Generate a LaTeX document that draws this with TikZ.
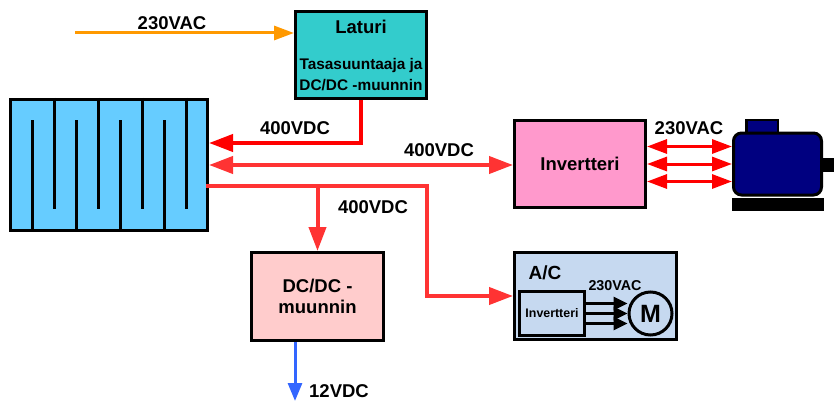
\documentclass[tikz,border=0pt]{standalone}
\usepackage{fontspec}
\setmainfont{Liberation Sans}
\usepackage{tikz}
\usetikzlibrary{arrows.meta,calc}
\usepackage{xcolor}
\definecolor{chargeteal}{RGB}{51,204,204}
\definecolor{battblue}{RGB}{102,204,255}
\definecolor{invpink}{RGB}{255,153,204}
\definecolor{softpink}{RGB}{255,204,204}
\definecolor{softblue}{RGB}{198,217,240}
\definecolor{motornavy}{RGB}{0,0,128}
\definecolor{mainorange}{RGB}{255,153,0}
\definecolor{mainred}{RGB}{255,0,0}
\definecolor{softred}{RGB}{255,51,51}
\definecolor{lowblue}{RGB}{51,102,255}
\tikzset{
  blockbox/.style={draw=black,line width=3pt,inner sep=0pt,align=center,
    font=\fontsize{18.5}{21}\selectfont\bfseries},
  platefwd/.style={line width=3pt,draw=black},
  mainflow/.style={-{Triangle[length=24pt,width=17pt]},line width=4pt,draw=softred},
  feedflow/.style={mainflow,draw=mainred},
  phaseflow/.style={{Triangle[length=20pt,width=14pt]}-{Triangle[length=20pt,width=14pt]},line width=3pt,draw=mainred},
  innerflow/.style={-{Triangle[length=14pt,width=13pt]},line width=3pt,draw=black},
  voltlabel/.style={font=\fontsize{18.5}{20}\selectfont\bfseries,inner sep=0pt}
}
\begin{document}
\begin{tikzpicture}[x=1pt,y=-1pt]
  \useasboundingbox (0,0) rectangle (834,401);
  % blocks
  \node[blockbox,fill=chargeteal,minimum width=131pt,minimum height=87pt] (laturi) at (361,55)
    {{\fontsize{18.5}{19}\selectfont Laturi}\\[15pt]{\fontsize{15.4}{18}\selectfont Tasasuuntaaja ja}\\{\fontsize{15.4}{18}\selectfont DC/DC -muunnin}};
  \node[blockbox,fill=battblue,minimum width=197pt,minimum height=131pt] (batt) at (109,165) {};
  \node[blockbox,fill=invpink,minimum width=131pt,minimum height=87pt] (invert) at (580,164) {Invertteri};
  \node[blockbox,fill=softpink,minimum width=132pt,minimum height=88pt] (dcdc) at (317.5,296.5) {DC/DC -\\muunnin};
  \node[blockbox,fill=softblue,minimum width=162pt,minimum height=87pt] (ac) at (595.5,296) {};
  \node[blockbox,fill=softblue,minimum width=65pt,minimum height=44pt,font=\fontsize{12.4}{14}\selectfont\bfseries] (acinv) at (552,313.5) {Invertteri};
  \node[blockbox,fill=softblue,circle,minimum size=43pt,font=\fontsize{25}{27}\selectfont\bfseries] (acmotor) at (650.5,313.5) {M};
  % motor
  \node[draw=black,line width=2.5pt,fill=motornavy,minimum width=31.5pt,minimum height=18pt,inner sep=0pt] (motorcap) at (762,129) {};
  \node[draw=black,fill=black,minimum width=12pt,minimum height=13pt,inner sep=0pt,anchor=east] (motorshaft) at (834,164.5) {};
  \node[draw=black,line width=3pt,fill=motornavy,rounded corners=8pt,minimum width=88pt,minimum height=62pt,inner sep=0pt] (motor) at (777.5,164) {};
  \node[draw=black,fill=black,minimum width=91pt,minimum height=12pt,inner sep=0pt] (motorbase) at (777.5,204) {};
  % battery plates
  \draw[platefwd] (54,98) -- (54,209);
  \draw[platefwd] (98,98) -- (98,209);
  \draw[platefwd] (142,98) -- (142,209);
  \draw[platefwd] (186,98) -- (186,209);
  \draw[platefwd] (32,120) -- (32,231);
  \draw[platefwd] (76,120) -- (76,231);
  \draw[platefwd] (120,120) -- (120,231);
  \draw[platefwd] (164,120) -- (164,231);
  % connectors
  \coordinate (acsource) at (75,33);
  \coordinate (battcharge) at (batt.east |- 0,143);
  \coordinate (busstart) at ($(batt.east)+(-3,21)$);
  \coordinate (busturn) at (427,186);
  \coordinate (lowout) at (295,401);
  \draw[-{Triangle[length=20pt,width=14pt]},line width=3pt,draw=mainorange] (acsource) -- (acsource -| laturi.west);
  \draw[feedflow] (laturi.south) |- (battcharge);
  \draw[mainflow,{Triangle[length=24pt,width=17pt]}-{Triangle[length=24pt,width=17pt]}] (batt.east) -- (batt.east -| invert.west);
  \draw[mainflow] (busstart) -- (busturn) |- (ac.west);
  \draw[mainflow] (dcdc.north |- busstart) -- (dcdc.north);
  \draw[-{Triangle[length=18pt,width=14pt]},line width=3pt,draw=lowblue] (dcdc.south -| lowout) -- (lowout);
  \draw[phaseflow] ($(invert.east)+(0,-17.5)$) -- ($(motor.west)+(0,-17.5)$);
  \draw[phaseflow] (invert.east) -- (motor.west);
  \draw[phaseflow] ($(invert.east)+(0,17.5)$) -- ($(motor.west)+(0,17.5)$);
  \draw[innerflow] ($(acinv.east)+(0,-10)$) -- ($(acmotor.west)+(0,-10)$);
  \draw[innerflow] (acinv.east) -- (acmotor.west);
  \draw[innerflow] ($(acinv.east)+(0,10)$) -- ($(acmotor.west)+(0,10)$);
  % labels
  \node[voltlabel] (acinlabel) at (172,23) {230VAC};
  \node[voltlabel] (chargelabel) at (295,128) {400VDC};
  \node[voltlabel] (buslabel) at (439,150) {400VDC};
  \node[voltlabel] (dcdclabel) at (373,207) {400VDC};
  \node[voltlabel] (phaselabel) at (689,128) {230VAC};
  \node[voltlabel] (lowlabel) at (339,391) {12VDC};
  \node[voltlabel,font=\fontsize{19}{21}\selectfont\bfseries] (aclabel) at (545,273) {A/C};
  \node[voltlabel,font=\fontsize{14.3}{16}\selectfont\bfseries] (acphaselabel) at (615,286) {230VAC};
\end{tikzpicture}
\end{document}
